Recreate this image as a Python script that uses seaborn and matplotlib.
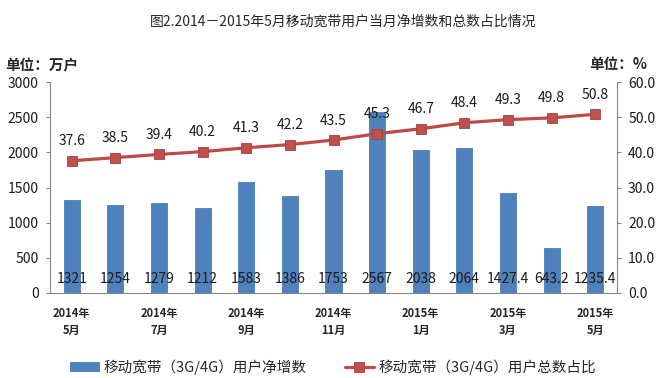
import numpy as np
import pandas as pd
import matplotlib
matplotlib.use('Agg')
import matplotlib.pyplot as plt
import matplotlib.transforms as mtransforms
from matplotlib.ticker import FormatStrFormatter
import seaborn as sns

# data
months = ['2014年\n5月', '2014年\n6月', '2014年\n7月', '2014年\n8月', '2014年\n9月',
          '2014年\n10月', '2014年\n11月', '2014年\n12月', '2015年\n1月', '2015年\n2月',
          '2015年\n3月', '2015年\n4月', '2015年\n5月']
net_add = [1321, 1254, 1279, 1212, 1583, 1386, 1753, 2567, 2038, 2064, 1427.4, 643.2, 1235.4]
net_add_text = ['1321', '1254', '1279', '1212', '1583', '1386', '1753', '2567', '2038',
                '2064', '1427.4', '643.2', '1235.4']
share = [37.6, 38.5, 39.4, 40.2, 41.3, 42.2, 43.5, 45.3, 46.7, 48.4, 49.3, 49.8, 50.8]

bar_name = '移动宽带（3G/4G）用户净增数'
line_name = '移动宽带（3G/4G）用户总数占比'

df = pd.DataFrame({'month': months, 'net_add': net_add, 'share': share})
df['pos'] = np.arange(len(df))

sns.set_style('white')
plt.rcParams['font.family'] = ['Noto Sans CJK SC', 'DejaVu Sans']

bar_color = '#4F81BD'
line_color = '#BE4B48'
axis_color = '#868686'

fig = plt.figure(figsize=(6.62, 3.78), dpi=100)
ax = fig.add_axes([50 / 662, 1 - 293 / 378, 567 / 662, 211 / 378])

sns.barplot(data=df, x='pos', y='net_add', color=bar_color, saturation=1, width=0.37,
            edgecolor='#4A7EBB', linewidth=0.6, ax=ax, label=bar_name, legend=False)
ax.set_ylim(0, 3000)
ax.set_xlim(-0.5, len(df) - 0.5)
ax.set_yticks(np.arange(0, 3001, 500))

ax2 = ax.twinx()
sns.lineplot(data=df, x='pos', y='share', color=line_color, linewidth=2.3,
             marker='s', markersize=6.5, markerfacecolor='#C0504D',
             markeredgecolor='#A5403D', markeredgewidth=0.6, ax=ax2,
             label=line_name, legend=False)
ax2.set_ylim(0, 60)
ax2.set_yticks(np.arange(0, 61, 10))
ax2.yaxis.set_major_formatter(FormatStrFormatter('%.1f'))

# bar value labels sit just above the base of each bar
offset = mtransforms.offset_copy(ax.transData, fig=fig, x=0, y=14, units='dots')
for i, t in enumerate(net_add_text):
    ax.text(i, 0, t, transform=offset, ha='center', va='center', fontsize=10, color='#1a1a1a')

# line value labels above the markers
for i, v in enumerate(share):
    ax2.annotate(f'{v:.1f}', (i, v), xytext=(0, 14), textcoords='offset points',
                 ha='center', va='center', fontsize=10, color='#1a1a1a')

# x axis: labels every other month, ticks between categories
ax.set_xticks(df['pos'][::2])
ax.set_xticklabels(df['month'][::2], fontsize=8, fontweight='bold', linespacing=1.45)
ax.set_xticks(np.arange(-0.5, len(df), 1), minor=True)
ax.tick_params(axis='x', which='major', length=0, pad=10)
ax.tick_params(axis='x', which='minor', length=4, color=axis_color, width=0.8, direction='out')
ax.set_xlabel('')
ax.set_ylabel('')
ax2.set_ylabel('')

for a in (ax, ax2):
    for s in a.spines.values():
        s.set_color(axis_color)
        s.set_linewidth(0.8)
    a.spines['top'].set_visible(False)
    a.tick_params(axis='y', length=3, color=axis_color, width=0.8, labelsize=10,
                  labelcolor='#1a1a1a', pad=5)
    a.grid(False)
ax.spines['right'].set_visible(False)
ax2.spines['left'].set_visible(False)
ax2.spines['bottom'].set_visible(False)

fig.text(343 / 662, 1 - 22 / 378, '图2.2014－2015年5月移动宽带用户当月净增数和总数占比情况',
         ha='center', va='center', fontsize=10)
fig.text(5 / 662, 1 - 65 / 378, '单位：万户', ha='left', va='center', fontsize=10.5, fontweight='bold')
fig.text(647 / 662, 1 - 64 / 378, '单位：%', ha='right', va='center', fontsize=10.5, fontweight='bold')

h1, l1 = ax.get_legend_handles_labels()
h2, l2 = ax2.get_legend_handles_labels()
fig.legend(h1 + h2, l1 + l2, loc='center', bbox_to_anchor=(333 / 662, 1 - 367 / 378),
           ncol=2, frameon=False, fontsize=10.5, handlelength=2.0, handleheight=0.6,
           columnspacing=2.6, handletextpad=0.3)

fig.savefig('out.png', dpi=100)
